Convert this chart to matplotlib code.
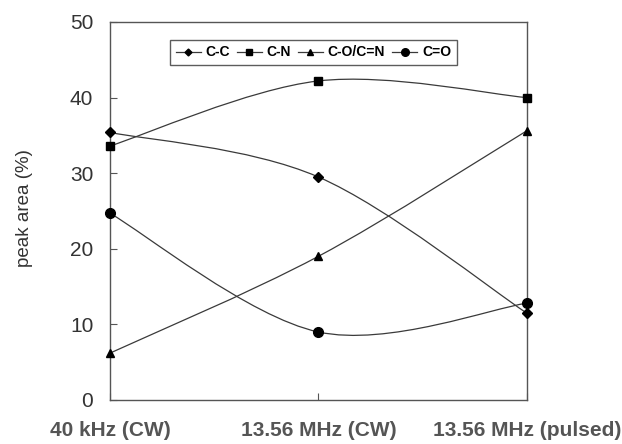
import matplotlib.pyplot as plt
from matplotlib.path import Path
from matplotlib.patches import PathPatch
from matplotlib.lines import Line2D

plt.rcParams['font.family'] = ['Liberation Sans', 'DejaVu Sans']

# dados
categorias = ['40 kHz (CW)', '13.56 MHz (CW)', '13.56 MHz (pulsed)']
cc = [35.4, 29.5, 11.5]
cn = [33.6, 42.2, 40.0]
co_cn = [6.2, 19.0, 35.6]
c_o = [24.7, 9.0, 12.8]

series = [('C-C', cc, 'D', 5), ('C-N', cn, 's', 6),
          ('C-O/C=N', co_cn, '^', 6), ('C=O', c_o, 'o', 7)]

cor = '#3a3a3a'

fig = plt.figure(figsize=(6.22, 4.44), dpi=100)
ax = fig.add_axes([0.1768, 0.0991, 0.670, 0.8514])


def curva_suave(xs, ys):
    # curva Bezier estilo Excel (linha suavizada)
    pts = list(zip(xs, ys))
    verts = [pts[0]]
    codes = [Path.MOVETO]
    n = len(pts)
    for i in range(n - 1):
        p0 = pts[max(i - 1, 0)]
        p1 = pts[i]
        p2 = pts[i + 1]
        p3 = pts[min(i + 2, n - 1)]
        c1 = (p1[0] + (p2[0] - p0[0]) / 6, p1[1] + (p2[1] - p0[1]) / 6)
        c2 = (p2[0] - (p3[0] - p1[0]) / 6, p2[1] - (p3[1] - p1[1]) / 6)
        verts += [c1, c2, p2]
        codes += [Path.CURVE4] * 3
    return Path(verts, codes)


x = list(range(len(categorias)))
handles = []
for nome, valores, marcador, tam in series:
    ax.add_patch(PathPatch(curva_suave(x, valores), facecolor='none',
                           edgecolor=cor, lw=0.9))
    ax.plot(x, valores, linestyle='none', marker=marcador, ms=tam,
            color='black', clip_on=False, zorder=5)
    handles.append(Line2D([], [], color=cor, lw=0.9, marker=marcador,
                          ms=tam - 1.5, markerfacecolor='black',
                          markeredgecolor='black'))

ax.set_xlim(0, 2)
ax.set_ylim(0, 50)
ax.set_xticks(x)
ax.set_xticklabels(categorias, fontsize=15, fontweight='bold', color='#222222')
ax.set_yticks(range(0, 51, 10))
ax.tick_params(axis='y', direction='in', length=5, labelsize=15,
               colors='#555555', labelcolor='#333333', pad=12)
ax.tick_params(axis='x', direction='in', length=5, pad=15,
               colors='#555555')
ax.set_ylabel('peak area (%)', fontsize=13.5, color='#333333')
ax.yaxis.set_label_coords(-0.185, 0.507)

for s in ax.spines.values():
    s.set_color('#555555')
    s.set_linewidth(1.0)

leg = ax.legend(handles, [s[0] for s in series], loc='upper center',
                bbox_to_anchor=(0.488, 0.971), ncol=4, frameon=True,
                fancybox=False, edgecolor='#333333', handlelength=1.8,
                handletextpad=0.35, columnspacing=0.5, borderpad=0.4,
                prop={'size': 10, 'weight': 'bold'})
leg.get_frame().set_linewidth(1.0)

plt.savefig('out.png', dpi=100)
